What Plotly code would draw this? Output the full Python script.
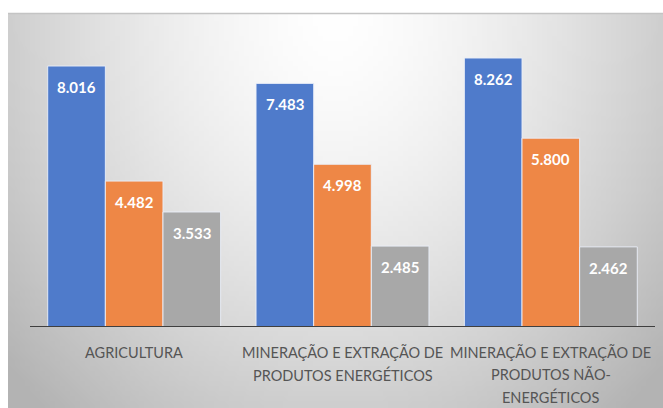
import base64
import struct
import zlib

import numpy as np
import plotly.graph_objects as go

# ---- data ----
categories = ["AGRICULTURA",
              "MINERAÇÃO E EXTRAÇÃO DE<br>PRODUTOS ENERGÉTICOS",
              "MINERAÇÃO E EXTRAÇÃO DE<br>PRODUTOS NÃO-<br>ENERGÉTICOS"]
series_a = [8016, 7483, 8262]
series_b = [4482, 4998, 5800]
series_c = [3533, 2485, 2462]
series_colors = ["#4F7BCB", "#EE8746", "#A8A8A8"]

W, H = 663, 408


def radial_png(w, h):
    """Small greyscale PNG with a radial fade from the top centre."""
    ys, xs = np.mgrid[0:h, 0:w]
    dx = (xs / (w - 1) - 0.50) / 0.50
    dy = (ys / (h - 1)) / 1.0
    d = np.sqrt(dx ** 2 + dy ** 2)
    g = 255 - 48 * np.clip(d, 0, 1.35) ** 1.5
    g = np.clip(g, 0, 255).astype(np.uint8)
    raw = b"".join(b"\x00" + bytes(row) for row in g)

    def chunk(tag, data):
        c = struct.pack(">I", len(data)) + tag + data
        return c + struct.pack(">I", zlib.crc32(tag + data) & 0xFFFFFFFF)

    png = b"\x89PNG\r\n\x1a\n"
    png += chunk(b"IHDR", struct.pack(">IIBBBBB", w, h, 8, 0, 0, 0, 0))
    png += chunk(b"IDAT", zlib.compress(raw, 9))
    png += chunk(b"IEND", b"")
    return "data:image/png;base64," + base64.b64encode(png).decode()


fig = go.Figure()
for vals, col in zip([series_a, series_b, series_c], series_colors):
    fig.add_trace(go.Bar(
        x=list(range(len(categories))), y=vals,
        marker=dict(color=col, line=dict(color="rgba(235,240,250,0.9)", width=1)),
        hoverinfo="skip",
    ))

# value labels inside the top of each bar
n = len(series_colors)
gap = 0.17
bw = (1 - gap) / n
annotations = []
for si, vals in enumerate([series_a, series_b, series_c]):
    for ci, v in enumerate(vals):
        xc = ci - (1 - gap) / 2 + bw * (si + 0.5)
        annotations.append(dict(
            x=xc, y=v, xref="x", yref="y", yshift=-21,
            text=f"{v:,}".replace(",", "."), showarrow=False,
            font=dict(family="Lato", size=15, color="white", weight="bold"),
        ))

# category labels, one annotation per text line
for ci, cat in enumerate(categories):
    for li, line in enumerate(cat.split("<br>")):
        annotations.append(dict(
            x=ci, y=0, xref="x", yref="y", yshift=-25 - 22.5 * li,
            text=line, showarrow=False, yanchor="middle",
            font=dict(family="Lato", size=14.5, color="#555555"),
        ))

x0, x1 = 30, 655
y_top, y_base = 34, 327

fig.update_layout(
    width=W, height=H,
    margin=dict(l=0, r=0, t=0, b=0),
    paper_bgcolor="white", plot_bgcolor="rgba(0,0,0,0)",
    barmode="group", bargap=gap, bargroupgap=0,
    showlegend=False,
    xaxis=dict(domain=[x0 / W, x1 / W], range=[-0.5, 2.5],
               showticklabels=False, showgrid=False, zeroline=False,
               showline=False, fixedrange=True),
    yaxis=dict(domain=[(H - y_base) / H, (H - y_top) / H], range=[0, 9000],
               showticklabels=False, showgrid=False, zeroline=False,
               showline=False, fixedrange=True),
    annotations=annotations,
    images=[dict(source=radial_png(132, 79), xref="paper", yref="paper",
                 x=8 / W, y=1 - 13 / H, sizex=(W - 8) / W, sizey=(H - 13) / H,
                 sizing="stretch", xanchor="left", yanchor="top",
                 layer="below")],
    shapes=[
        dict(type="line", xref="paper", yref="paper",
             x0=8 / W, x1=1, y0=1 - 13.5 / H, y1=1 - 13.5 / H,
             line=dict(color="#C4C4C4", width=1.5)),
        dict(type="line", xref="paper", yref="y",
             x0=x0 / W, x1=x1 / W, y0=0, y1=0,
             line=dict(color="#3F3F3F", width=2), layer="above"),
    ],
)

fig.write_html("out.html")
